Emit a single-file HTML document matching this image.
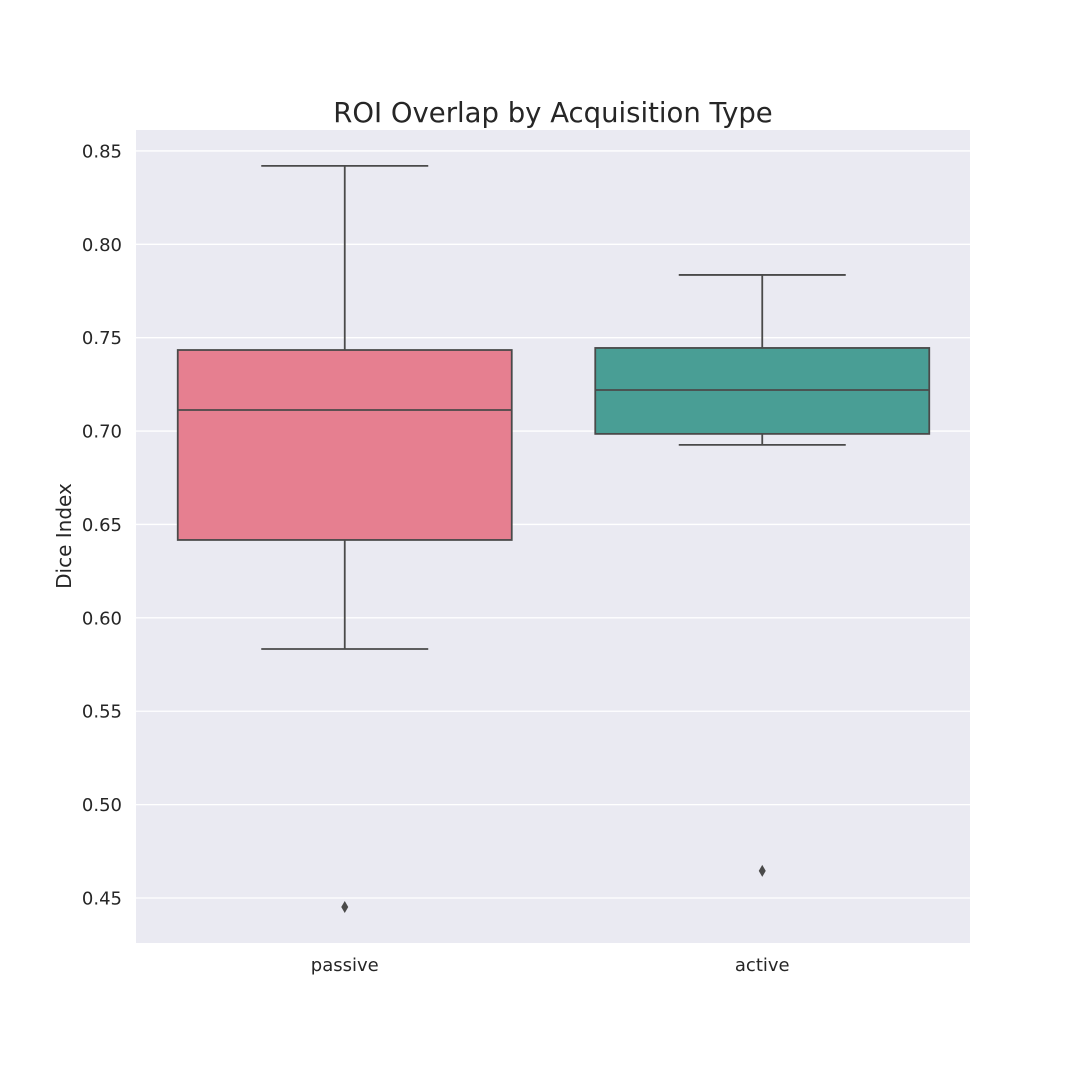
<!DOCTYPE html>
<html><head><meta charset="utf-8"><style>
html,body{margin:0;padding:0;background:#fff;}
svg{display:block;font-family:"DejaVu Sans","Liberation Sans",sans-serif;}
</style></head><body>
<svg id="chart" width="1080" height="1080" viewBox="0 0 1080 1080">
<rect x="0" y="0" width="1080" height="1080" fill="#fff"/>
<text x="553" y="122" text-anchor="middle" font-size="27.5" fill="#262626">ROI Overlap by Acquisition Type</text>
<rect x="136" y="130" width="834" height="813" fill="#eaeaf2"/>
<g id="grid"></g>
<g id="yticks"></g>
<g id="xticks"></g>
<g id="boxes"></g>
<text transform="translate(71,536) rotate(-90)" text-anchor="middle" font-size="20" fill="#262626">Dice Index</text>
</svg>
<script>
const categories = ["passive", "active"];
const whiskerHigh = [0.842, 0.7836];
const q3 = [0.7434, 0.7445];
const medians = [0.7113, 0.722];
const q1 = [0.6417, 0.6985];
const whiskerLow = [0.5833, 0.6926];
const outliers = [[0.4452], [0.4645]];
const colors = ["#e67f90", "#499e95"];
const yTicks = [0.45, 0.50, 0.55, 0.60, 0.65, 0.70, 0.75, 0.80, 0.85];

const NS = "http://www.w3.org/2000/svg";
const X0 = 136, X1 = 971, Y0 = 130, Y1 = 943;
const yMin = 0.4259, yMax = 0.8612;
function yScale(v){ return Y1 - (v - yMin) / (yMax - yMin) * (Y1 - Y0); }
const band = (X1 - X0) / categories.length;
function xCenter(i){ return X0 + band * (i + 0.5); }
function mk(tag, attrs, parent){ const e = document.createElementNS(NS, tag); for (const k in attrs) e.setAttribute(k, attrs[k]); parent.appendChild(e); return e; }

const grid = document.getElementById("grid"), yt = document.getElementById("yticks"), xt = document.getElementById("xticks"), bx = document.getElementById("boxes");
yTicks.forEach(t => {
  const y = yScale(t);
  const l = mk("line", {x1: X0, x2: X1, y1: y, y2: y, stroke: "#fff", "stroke-width": 1.3}, grid);
  
  
  const tx = mk("text", {x: 122, y: y + 6.5, "text-anchor": "end", "font-size": 18, fill: "#262626"}, yt);
  tx.textContent = t.toFixed(2);
  
  
});
const stroke = "#4a4a4a";
categories.forEach((c, i) => {
  const cx = xCenter(i), w = band * 0.8, half = w / 2, cap = w / 4;
  const g = mk("g", {}, bx);
  
  
  mk("line", {x1: cx, x2: cx, y1: yScale(q3[i]), y2: yScale(whiskerHigh[i]), stroke: stroke, "stroke-width": 1.8}, g);
  mk("line", {x1: cx, x2: cx, y1: yScale(q1[i]), y2: yScale(whiskerLow[i]), stroke: stroke, "stroke-width": 1.8}, g);
  mk("line", {x1: cx - cap, x2: cx + cap, y1: yScale(whiskerHigh[i]), y2: yScale(whiskerHigh[i]), stroke: stroke, "stroke-width": 1.8}, g);
  mk("line", {x1: cx - cap, x2: cx + cap, y1: yScale(whiskerLow[i]), y2: yScale(whiskerLow[i]), stroke: stroke, "stroke-width": 1.8}, g);
  mk("rect", {x: cx - half, y: yScale(q3[i]), width: w, height: yScale(q1[i]) - yScale(q3[i]), fill: colors[i], stroke: stroke, "stroke-width": 1.8}, g);
  mk("line", {x1: cx - half, x2: cx + half, y1: yScale(medians[i]), y2: yScale(medians[i]), stroke: stroke, "stroke-width": 1.8}, g);
  outliers[i].forEach(o => {
    const y = yScale(o);
    const p = mk("polygon", {points: `${cx},${y-6} ${cx+3.5},${y} ${cx},${y+6} ${cx-3.5},${y}`, fill: stroke}, g);
    
    
  });
  const tx = mk("text", {x: cx, y: 971, "text-anchor": "middle", "font-size": 18, fill: "#262626"}, xt);
  tx.textContent = c;
  
  
});
</script>
</body></html>
